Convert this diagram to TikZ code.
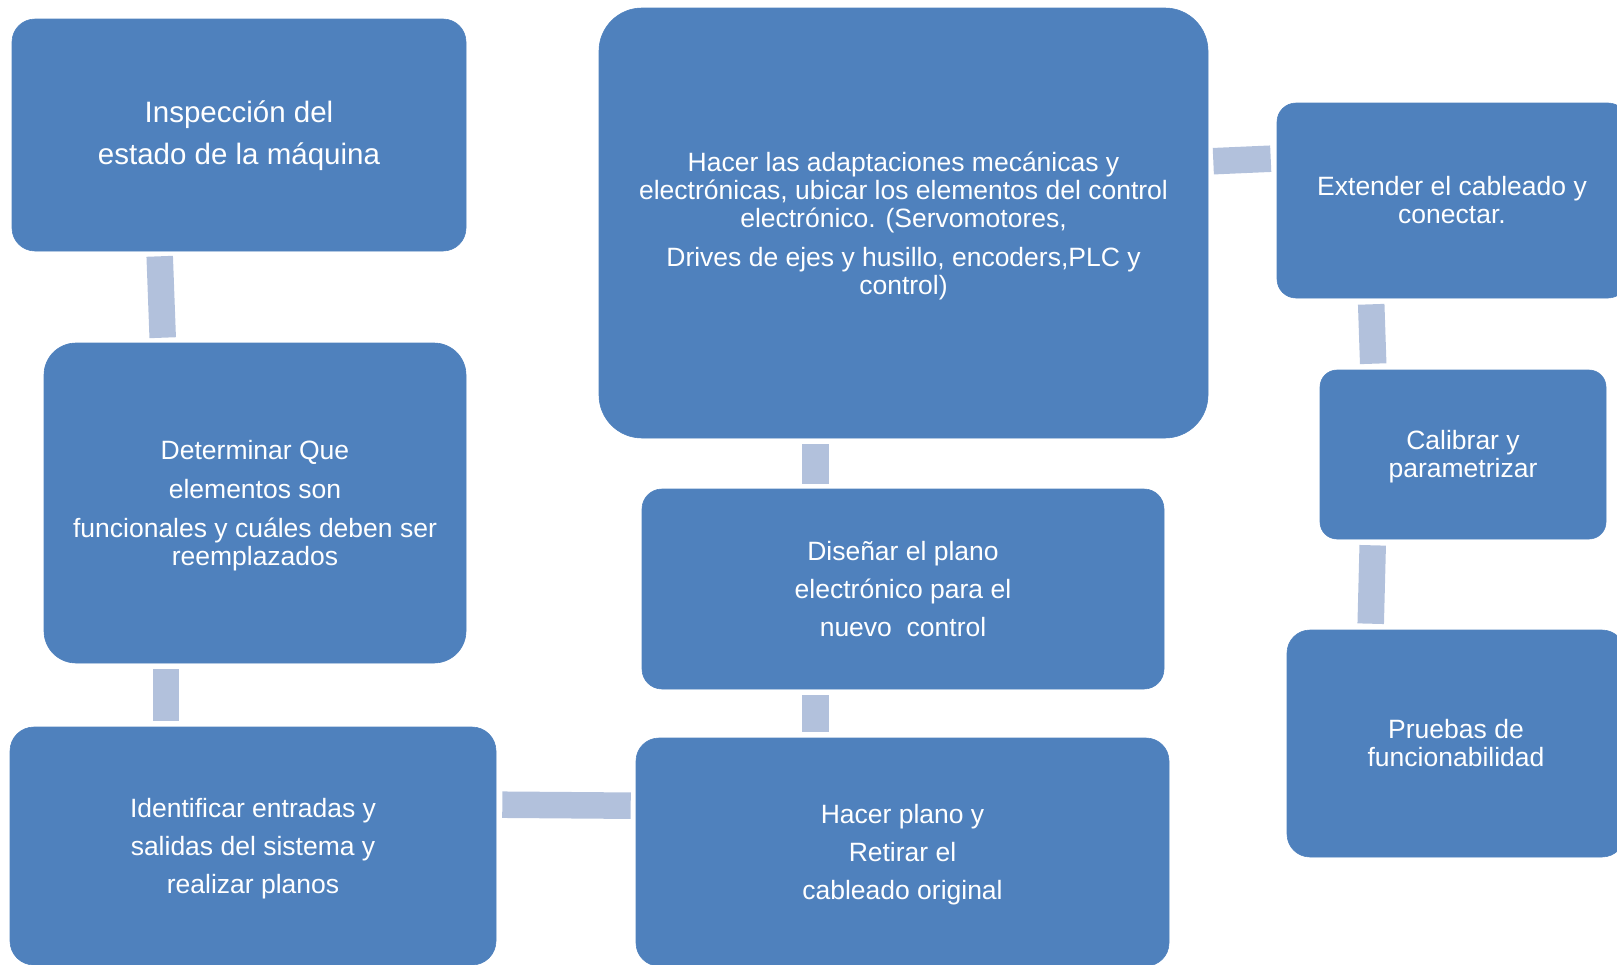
\documentclass[tikz,border=0pt]{standalone}
\usepackage{fontspec}
\setmainfont{Liberation Sans}
\definecolor{boxblue}{HTML}{4F81BD}
\definecolor{connblue}{HTML}{B2C1DC}
\newcommand\dropstrut[1]{\rule{0pt}{#1}}
\begin{document}
\begin{tikzpicture}[x=1pt,y=-1pt,
  stepbox/.style={draw=boxblue,fill=boxblue,line width=0.6pt,text=white,align=center,inner sep=0pt,
    font=\fontsize{26.5}{28}\selectfont},
  conn/.style={draw=connblue,line width=26.5pt}]
\useasboundingbox (0,0) rectangle (1617,964);
\clip (0,0) rectangle (1617,964);
% boxes
\node[stepbox,minimum width=454pt,minimum height=232pt,rounded corners=23pt,font=\fontsize{29.5}{42}\selectfont] (ins) at (239,135) {\dropstrut{24pt}Inspección del\\estado de la máquina};
\node[stepbox,minimum width=422pt,minimum height=320pt,rounded corners=32pt] (det) at (255,503) {\dropstrut{25pt}Determinar Que\\[11pt]elementos son\\[11pt]funcionales y cuáles deben ser\\reemplazados};
\node[stepbox,minimum width=486pt,minimum height=238pt,rounded corners=24pt] (ide) at (253,846) {\dropstrut{25pt}Identificar entradas y\\[10pt]salidas del sistema y\\[10pt]realizar planos};
\node[stepbox,minimum width=533pt,minimum height=228pt,rounded corners=23pt] (hpl) at (902.5,852) {\dropstrut{25pt}Hacer plano y\\[10pt]Retirar el\\[10pt]cableado original};
\node[stepbox,minimum width=522pt,minimum height=200pt,rounded corners=20pt] (dis) at (903,589) {Diseñar el plano\\[10pt]electrónico para el\\[10pt]nuevo\ \ control};
\node[stepbox,minimum width=609pt,minimum height=430pt,rounded corners=43pt] (had) at (903.5,223) {\dropstrut{25pt}Hacer las adaptaciones mecánicas y\\electrónicas, ubicar los elementos del control\\electrónico. (Servomotores,\\[11pt]Drives de ejes y husillo, encoders,PLC y\\control)};
\node[stepbox,minimum width=350pt,minimum height=195pt,rounded corners=19pt] (ext) at (1452,200.5) {Extender el cableado y\\conectar.};
\node[stepbox,minimum width=286pt,minimum height=169pt,rounded corners=17pt] (cal) at (1463,454.5) {\dropstrut{23pt}Calibrar y\\parametrizar};
\node[stepbox,minimum width=338pt,minimum height=227pt,rounded corners=23pt] (pru) at (1456,743.5) {Pruebas de\\funcionabilidad};
% connectors
\draw[conn] ([xshift=148pt,yshift=-5pt]ins.south west) -- ([xshift=119pt,yshift=5pt]det.north west);
\draw[conn] ([xshift=122.5pt,yshift=-6pt]det.south west) -- ([xshift=156.5pt,yshift=6pt]ide.north west);
\draw[conn] ([xshift=6pt,yshift=-78pt]ide.north east) -- ([xshift=-5pt,yshift=-68pt]hpl.north west);
\draw[conn] ([xshift=180pt,yshift=6pt]hpl.north west) -- ([xshift=174pt,yshift=-6pt]dis.south west);
\draw[conn] ([xshift=174pt,yshift=5pt]dis.north west) -- ([xshift=217pt,yshift=-6pt]had.south west);
\draw[conn] ([xshift=5pt,yshift=-153.5pt]had.north east) -- ([xshift=-6pt,yshift=-56pt]ext.north west);
\draw[conn] ([xshift=94.5pt,yshift=-6pt]ext.south west) -- ([xshift=53.5pt,yshift=6pt]cal.north west);
\draw[conn] ([xshift=53pt,yshift=-6pt]cal.south west) -- ([xshift=84pt,yshift=6pt]pru.north west);
\end{tikzpicture}
\end{document}
